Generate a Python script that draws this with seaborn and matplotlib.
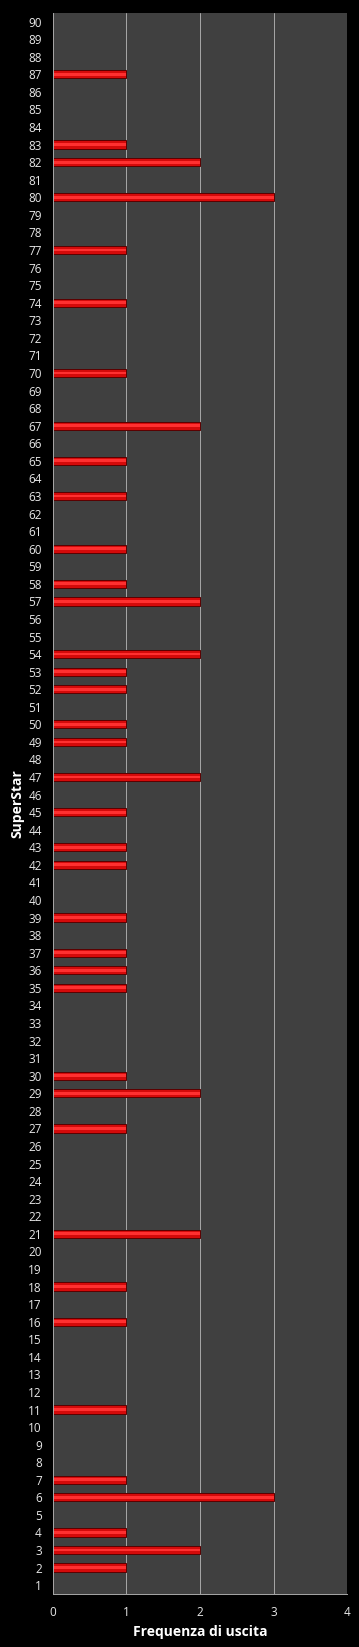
import pandas as pd
import matplotlib
matplotlib.use("Agg")
import matplotlib.pyplot as plt
import seaborn as sns

# numeri estratti (1..90) e frequenza di uscita
numbers = list(range(1, 91))
hits = {87: 1, 83: 1, 82: 2, 80: 3, 77: 1, 74: 1, 70: 1, 67: 2, 65: 1, 63: 1,
        60: 1, 58: 1, 57: 2, 54: 2, 53: 1, 52: 1, 50: 1, 49: 1, 47: 2, 45: 1,
        43: 1, 42: 1, 39: 1, 37: 1, 36: 1, 35: 1, 30: 1, 29: 2, 27: 1, 21: 2,
        18: 1, 16: 1, 11: 1, 7: 1, 6: 3, 4: 1, 3: 2, 2: 1}
freq = [hits.get(n, 0) for n in numbers]
xticks = [0, 1, 2, 3, 4]

df = pd.DataFrame({"SuperStar": [str(n) for n in numbers], "freq": freq})
order = [str(n) for n in reversed(numbers)]

sns.set_style("dark")
plt.rcParams['font.family'] = ['Open Sans', 'DejaVu Sans']

fig = plt.figure(figsize=(3.59, 16.47), dpi=100, facecolor='black')
ax = fig.add_axes([0.1476, 0.0322, 0.819, 0.96])
ax.set_facecolor('#404040')

# barra principale + riflesso chiaro al centro (effetto 3D)
sns.barplot(data=df, x="freq", y="SuperStar", order=order, orient='h',
            color='#d40a0a', edgecolor='#5a0000', linewidth=0.7,
            width=0.47, saturation=1, ax=ax)
sns.barplot(data=df, x="freq", y="SuperStar", order=order, orient='h',
            color='#ff3030', linewidth=0, width=0.16, saturation=1, ax=ax)

ax.set_xlim(0, 4)
ax.set_xticks(xticks)
ax.set_xticklabels([str(t) for t in xticks])
ax.grid(False)
for t in xticks[1:]:
    ax.axvline(t, color='#a8a8a8', linewidth=0.7, zorder=0.5)

for s in ['top', 'right']:
    ax.spines[s].set_visible(False)
for s in ['left', 'bottom']:
    ax.spines[s].set_visible(True)
    ax.spines[s].set_color('#a8a8a8')
    ax.spines[s].set_linewidth(0.7)

ax.tick_params(axis='both', colors='#e8e8e8', labelsize=8.5, length=0)
ax.tick_params(axis='x', pad=9)
ax.tick_params(axis='y', pad=8)

ax.set_xlabel("Frequenza di uscita", color='white', fontsize=10,
              fontweight='bold', labelpad=4)
ax.set_ylabel("SuperStar", color='white', fontsize=10,
              fontweight='bold', labelpad=3)

fig.savefig("out.png", dpi=100, facecolor='black')
